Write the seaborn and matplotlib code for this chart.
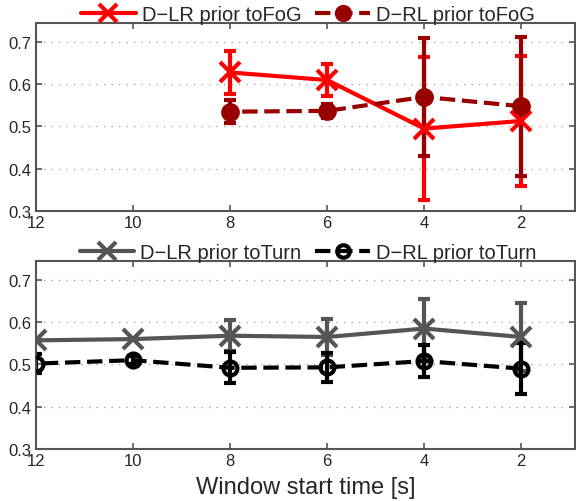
import numpy as np
import pandas as pd
import matplotlib
matplotlib.use("Agg")
import matplotlib.pyplot as plt
import seaborn as sns

# window start times [s]
t_fog = [8, 6, 4, 2]
t_turn = [12, 10, 8, 6, 4, 2]

# prior to FoG
lr_fog = [0.628, 0.610, 0.495, 0.513]
lr_fog_err = [0.050, 0.038, 0.170, 0.153]
rl_fog = [0.535, 0.537, 0.570, 0.548]
rl_fog_err = [0.027, 0.017, 0.140, 0.165]

# prior to Turn
lr_turn = [0.557, 0.560, 0.568, 0.565, 0.585, 0.565]
lr_turn_err = [0.0, 0.0, 0.037, 0.042, 0.070, 0.080]
rl_turn = [0.502, 0.510, 0.492, 0.493, 0.508, 0.490]
rl_turn_err = [0.022, 0.010, 0.037, 0.034, 0.038, 0.060]

sns.set_style("ticks")
plt.rcParams['font.family'] = ['Liberation Sans', 'DejaVu Sans']

fig = plt.figure(figsize=(5.76, 5.02), dpi=100)
ax1 = fig.add_axes([0.0625, 0.578, 0.935, 0.374])
ax2 = fig.add_axes([0.0625, 0.104, 0.935, 0.374])

RED = "#ff0000"
DRED = "#990000"
GRAY = "#555555"
BLACK = "#000000"
dash = (4, 2.6)


def draw(ax, x, y, err, color, ls, marker, ms, mfc, label):
    df = pd.DataFrame({"t": x, "v": y})
    ax.errorbar(x, y, yerr=err, fmt="none", ecolor=color, elinewidth=3,
                capsize=4, capthick=3, zorder=2)
    kw = dict(dashes=dash) if ls == "--" else {}
    sns.lineplot(data=df, x="t", y="v", ax=ax, color=color, lw=3,
                 linestyle=ls, marker=marker, markersize=ms, mew=3,
                 mfc=mfc, mec=color, label=label, zorder=3, **kw)


draw(ax1, t_fog, lr_fog, lr_fog_err, RED, "-", "x", 14, RED, "D\u2212LR prior toFoG")
draw(ax1, t_fog, rl_fog, rl_fog_err, DRED, "--", "o", 10.5, DRED, "D\u2212RL prior toFoG")
draw(ax2, t_turn, lr_turn, lr_turn_err, GRAY, "-", "x", 14, GRAY, "D\u2212LR prior toTurn")
draw(ax2, t_turn, rl_turn, rl_turn_err, BLACK, "--", "o", 10, "none", "D\u2212RL prior toTurn")

for ax in (ax1, ax2):
    ax.set_xlim(12, 0.9)
    ax.set_ylim(0.3, 0.745)
    ax.set_xticks([12, 10, 8, 6, 4, 2])
    ax.set_yticks([0.3, 0.4, 0.5, 0.6, 0.7])
    ax.set_yticklabels(["0.3", "0.4", "0.5", "0.6", "0.7"])
    ax.tick_params(direction="in", top=True, right=True, labelsize=12,
                   length=4, width=1.2, color="#555555", pad=3)
    for s in ax.spines.values():
        s.set_color("#555555")
        s.set_linewidth(1.5)
        s.set_visible(True)
    ax.yaxis.grid(True, linestyle=(0, (1, 5)), color="#999999", lw=0.9)
    ax.set_axisbelow(True)
    ax.set_ylabel("")
    ax.set_xlabel("")
    ax.legend(loc="lower center", bbox_to_anchor=(0.505, 0.995), ncol=2,
              frameon=False, fontsize=14.5, handlelength=2.7,
              columnspacing=0.7, handletextpad=0.3, borderaxespad=0,
              borderpad=0, markerscale=0.9)

ax2.set_xlabel("Window start time [s]", fontsize=17, labelpad=6)

fig.savefig("out.png", dpi=100)
